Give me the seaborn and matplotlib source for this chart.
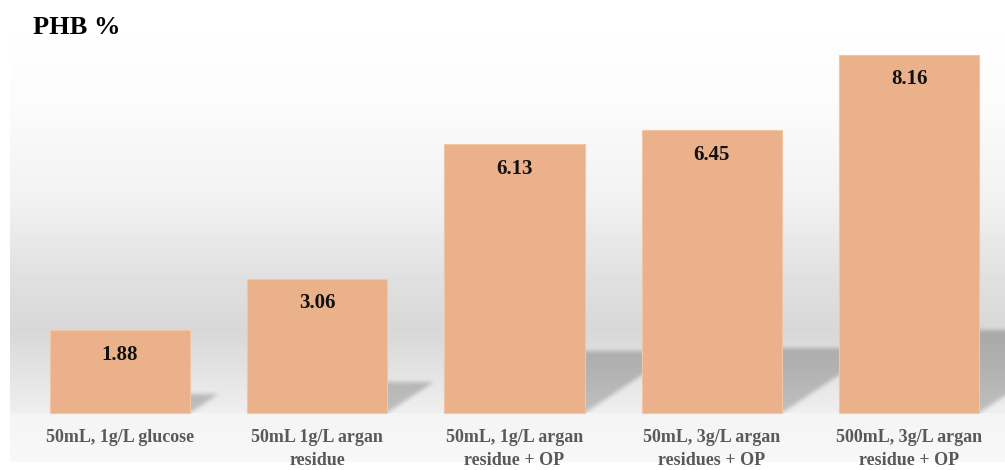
import numpy as np
import pandas as pd
import matplotlib
matplotlib.use("Agg")
import matplotlib.pyplot as plt
from matplotlib.path import Path
import seaborn as sns

# data
conditions = ["50mL, 1g/L glucose",
              "50mL 1g/L argan\nresidue",
              "50mL, 1g/L argan\nresidue + OP",
              "50mL, 3g/L argan\nresidues + OP",
              "500mL, 3g/L argan\nresidue + OP"]
phb = [1.88, 3.06, 6.13, 6.45, 8.16]
value_labels = ["1.88", "3.06", "6.13", "6.45", "8.16"]

df = pd.DataFrame({"cond": conditions, "phb": phb})

sns.set_theme(style="white")
plt.rcParams["font.family"] = ["Liberation Serif", "DejaVu Serif"]

W, H = 1005, 470
fig = plt.figure(figsize=(W / 100, H / 100), dpi=100)
fig.patch.set_facecolor("white")

# axes: from x=10px to right edge, y from 462px (bottom) to 35px (top)
ax = fig.add_axes([10 / W, (H - 462) / H, 1 - 10 / W, (462 - 35) / H])
px_per_x = 197.25
px_per_y = 43.9
x0 = (10 - 120) / px_per_x
x1 = (1005 - 120) / px_per_x
y0 = -(462 - 413) / px_per_y
y1 = (413 - 35) / px_per_y
bar_w = 0.71

# background: wall gradient + floor, with soft cast shadows
nx, ny = 995, 427
xs = np.linspace(x0, x1, nx)
ys = np.linspace(y0, y1, ny)
py = 413 - ys * px_per_y  # pixel row for each y
wall = np.interp(py, [35, 100, 200, 280, 330, 370, 413],
                 [1.0, 0.99, 0.95, 0.88, 0.85, 0.89, 0.94])
bg = np.where(ys < 0, np.interp(py, [413, 462], [0.96, 0.975]), wall)
img = np.tile(bg[:, None], (1, nx))

XX, YY = np.meshgrid(xs, ys)
pts = np.column_stack([XX.ravel(), YY.ravel()])
mask = np.zeros(XX.size)
for i, v in enumerate(phb):
    dx, dy = 0.077 * v, 0.23 * v
    poly = Path([(i - bar_w / 2, 0), (i + bar_w / 2, 0),
                 (i + bar_w / 2 + dx, dy), (i - bar_w / 2 + dx, dy)])
    mask = np.maximum(mask, poly.contains_points(pts).astype(float))
mask = mask.reshape(XX.shape)
k = np.ones(5) / 5
pad = 10
m = np.pad(mask, pad, mode="edge")
for _ in range(2):
    m = np.apply_along_axis(lambda r: np.convolve(r, k, mode="same"), 1, m)
    m = np.apply_along_axis(lambda c: np.convolve(c, k, mode="same"), 0, m)
mask = m[pad:-pad, pad:-pad]
mask[ys < 0, :] = 0
img = np.clip(img - 0.19 * mask, 0, 1)
rgb = np.dstack([img, img, img])

ax.imshow(rgb, extent=[x0, x1, y0, y1], origin="lower", aspect="auto",
          zorder=0, interpolation="nearest")

sns.barplot(data=df, x="cond", y="phb", color="#EAB18A", saturation=1,
            width=bar_w, edgecolor="#F2C6A4", linewidth=0.8, ax=ax, zorder=2)

ax.bar_label(ax.containers[0], labels=value_labels, padding=-25,
             fontsize=15, fontweight="bold", color="#111111")

ax.set_xlim(x0, x1)
ax.set_ylim(y0, y1)
ax.set_xlabel("")
ax.set_ylabel("")
ax.set_yticks([])
ax.tick_params(axis="x", length=0, pad=-24, labelsize=13, labelcolor="#595959")
for lab in ax.get_xticklabels():
    lab.set_fontweight("bold")
    lab.set_linespacing(1.45)
for s in ax.spines.values():
    s.set_visible(False)

fig.text(33 / W, 1 - 27 / H, "PHB %", fontsize=19, fontweight="bold",
         color="black", va="center", ha="left")

fig.savefig("out.png", dpi=100)
